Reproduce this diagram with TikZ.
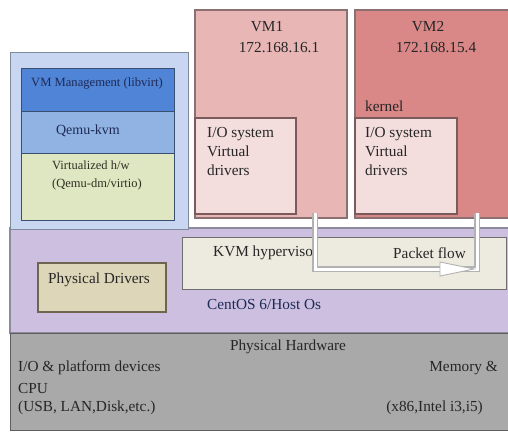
\documentclass[tikz,border=0pt]{standalone}
\usepackage{fontspec}
\setmainfont{Liberation Serif}
\definecolor{hostC}{HTML}{CCBFE0}
\definecolor{hostD}{HTML}{8C8A9C}
\definecolor{hwC}{HTML}{A9A9A9}
\definecolor{hwD}{HTML}{5E5E5E}
\definecolor{mgC}{HTML}{C8D6F2}
\definecolor{mgD}{HTML}{7F8A9A}
\definecolor{lvC}{HTML}{4F84D6}
\definecolor{qmC}{HTML}{91B3E4}
\definecolor{vhC}{HTML}{DFE6C2}
\definecolor{inD}{HTML}{3A4E70}
\definecolor{vmAC}{HTML}{E9B6B6}
\definecolor{vmBC}{HTML}{D98787}
\definecolor{vmD}{HTML}{8A7070}
\definecolor{ioC}{HTML}{F3DDDD}
\definecolor{ioD}{HTML}{7A5A5A}
\definecolor{kvC}{HTML}{EDEBE0}
\definecolor{kvD}{HTML}{6E6E6E}
\definecolor{pdC}{HTML}{DDD6B9}
\definecolor{pdD}{HTML}{6E6450}
\definecolor{ink}{HTML}{262626}
\definecolor{navy}{HTML}{1E2A55}
\begin{document}
\begin{tikzpicture}[x=1pt,y=-1pt,
  box/.style={anchor=north west, inner sep=0pt, outer sep=0pt, line width=1pt},
  txt/.style={font=\fontsize{15.3}{19}\selectfont, text=ink, inner sep=0pt, align=left},
  small/.style={font=\fontsize{12.5}{18}\selectfont, text=navy, inner sep=0pt, align=left},
  flow/.style={draw=gray!60, double=white, double distance=3pt, line width=1.1pt}]
\useasboundingbox (0,0) rectangle (508,432);
\fill[white] (0,0) rectangle (508,432);
% layers
\node[box, fill=hostC, draw=hostD, line width=1.5pt, minimum width=500pt, minimum height=105pt] (host) at (10,228) {};
\node[box, fill=hwC, draw=hwD, minimum width=500pt, minimum height=97pt] (hw) at (10,333) {};
% management stack
\node[box, fill=mgC, draw=mgD, minimum width=178pt, minimum height=177pt] (mgmt) at (10,52) {};
\node[box, fill=lvC, draw=inD, minimum width=153pt, minimum height=43pt] (libvirt) at (21,68) {};
\node[box, fill=qmC, draw=inD, minimum width=153pt, minimum height=42pt] (qemu) at (21,111) {};
\node[box, fill=vhC, draw=inD, minimum width=153pt, minimum height=67pt] (vhw) at (21,153) {};
% VMs
\node[box, fill=vmAC, draw=vmD, line width=1.2pt, minimum width=152pt, minimum height=208pt] (vm1) at (195,10) {};
\node[box, fill=ioC, draw=ioD, line width=1.2pt, minimum width=101pt, minimum height=96pt] (io1) at (195,118) {};
\node[box, fill=vmBC, draw=vmD, line width=1.2pt, minimum width=160pt, minimum height=208pt] (vm2) at (355,10) {};
\node[box, fill=ioC, draw=ioD, line width=1.2pt, minimum width=102pt, minimum height=96pt] (io2) at (355,118) {};
% host boxes
\node[box, fill=kvC, draw=kvD, minimum width=324pt, minimum height=52pt] (kvm) at (182,237) {};
\node[box, fill=pdC, draw=pdD, line width=1.2pt, minimum width=128pt, minimum height=49pt] (pdrv) at (38,263) {};
% texts
\node[small, font=\fontsize{12.6}{14}\selectfont] (tlv) at (97,83) {VM Management (libvirt)};
\node[small, font=\fontsize{14}{16}\selectfont] (tqm) at (88,131) {Qemu-kvm};
\node[small, text=ink!90!olive, anchor=north west] (tvh) at (52,161) {Virtualized h/w\\(Qemu-dm/virtio)};
\node[txt] (tvm1) at (267,27) {VM1};
\node[txt] (tip1) at (279,48) {172.168.16.1};
\node[txt] (tvm2) at (428,27) {VM2};
\node[txt] (tip2) at (436,48) {172.168.15.4};
\node[txt, anchor=west] (tker) at (365,106) {kernel};
\node[txt, anchor=north west] (tio1) at (207,127) {I/O system\\Virtual\\drivers};
\node[txt, anchor=north west] (tio2) at (365,127) {I/O system\\Virtual\\drivers};
\node[txt, anchor=west] (tkvm) at (213,253) {KVM hypervisor};
\node[txt, anchor=west] (tpf) at (393,253) {Packet flow};
\node[txt, anchor=west] (tpd) at (48,280) {Physical Drivers};
\node[txt, text=navy, anchor=west] (tcos) at (207,305) {CentOS 6/Host Os};
\node[txt] (tphw) at (288,347) {Physical Hardware};
\node[txt, anchor=west] (tl1) at (18,368) {I/O \& platform devices};
\node[txt, anchor=west] (tl2) at (18,388) {CPU};
\node[txt, anchor=west] (tl3) at (18,408) {(USB, LAN,Disk,etc.)};
\node[txt, anchor=east] (tr1) at (498,368) {Memory \&};
\node[txt, anchor=east] (tr3) at (483,408) {(x86,Intel i3,i5)};
% packet flow arrow
\coordinate (fs) at (315,213);
\coordinate (fc) at (477,269);
\coordinate (fe) at (477,213);
\draw[flow] (fs) |- (fc) -- (fe);
\draw[fill=white, draw=gray!60, line width=0.9pt] (440,262) -- (474,269) -- (440,276) -- cycle;
\end{tikzpicture}
\end{document}
